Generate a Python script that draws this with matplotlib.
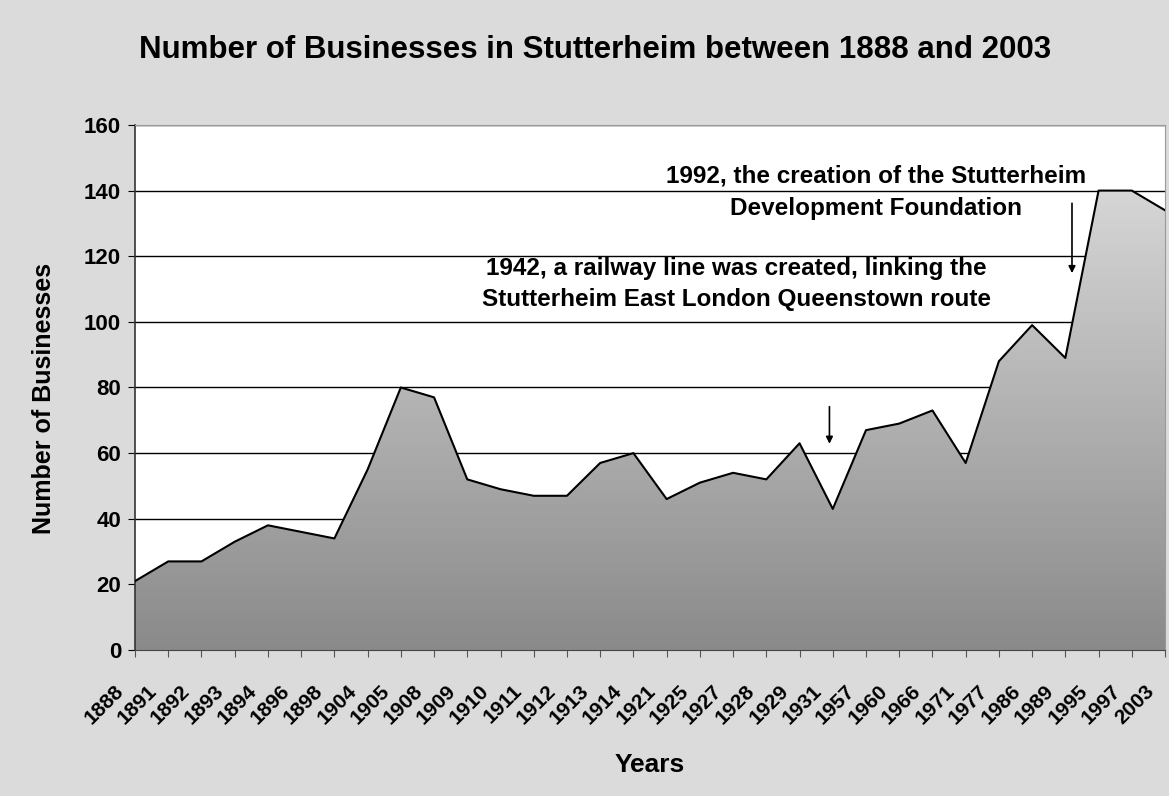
import numpy as np
import matplotlib.pyplot as plt
import matplotlib.transforms as mtransforms
from matplotlib.colors import LinearSegmentedColormap

years = ["1888", "1891", "1892", "1893", "1894", "1896", "1898", "1904", "1905", "1908",
         "1909", "1910", "1911", "1912", "1913", "1914", "1921", "1925", "1927", "1928",
         "1929", "1931", "1957", "1960", "1966", "1971", "1977", "1986", "1989", "1995",
         "1997", "2003"]
businesses = [21, 27, 27, 33, 38, 36, 34, 55, 80, 77,
              52, 49, 47, 47, 57, 60, 46, 51, 54, 52,
              63, 43, 67, 69, 73, 57, 88, 99, 89, 140,
              140, 134]
yticks = [0, 20, 40, 60, 80, 100, 120, 140, 160]

plt.rcParams['font.family'] = ['Liberation Sans', 'DejaVu Sans']
plt.rcParams['font.weight'] = 'bold'

fig = plt.figure(figsize=(11.69, 7.96), dpi=100, facecolor='#dbdbdb')
ax = fig.add_axes([0.1155, 0.1834, 0.8811, 0.6596])
ax.set_facecolor('white')

x = np.arange(len(years))

# gradient filled area, clipped to the data polygon
poly = ax.fill_between(x, businesses, 0, facecolor='none', edgecolor='none', zorder=2)
cmap = LinearSegmentedColormap.from_list('g', ['#8a8a8a', '#d6d6d6'])
grad = np.linspace(0, 1, 256).reshape(-1, 1)
im = ax.imshow(grad, cmap=cmap, aspect='auto', origin='lower',
               extent=[0, len(years) - 1, 0, max(businesses)], zorder=2)
im.set_clip_path(poly.get_paths()[0], ax.transData)
ax.plot(x, businesses, color='black', lw=1.5, zorder=3)

ax.set_xlim(0, len(years) - 1)
ax.set_ylim(0, 160)
ax.set_yticks(yticks)
ax.yaxis.grid(True, color='black', lw=1)
ax.set_axisbelow(True)

ax.tick_params(axis='y', labelsize=16, length=5, pad=5)
ax.tick_params(axis='x', length=5, pad=4, color='#555555')
ax.set_xticks(x)
ax.set_xticklabels(years, rotation=45, ha='right', va='top', rotation_mode='anchor', fontsize=15)
# move the slanted year labels down/left like the original
shift = mtransforms.ScaledTranslation(-0.21, -0.19, fig.dpi_scale_trans)
for lab in ax.get_xticklabels():
    lab.set_transform(lab.get_transform() + shift)

for s in ['top', 'right']:
    ax.spines[s].set_color('#999999')
ax.spines['left'].set_color('#333333')
ax.spines['left'].set_linewidth(1.2)
ax.spines['bottom'].set_color('#444444')

fig.text(0.509, 0.937, "Number of Businesses in Stutterheim between 1888 and 2003",
         ha='center', va='center', fontsize=22.5)
fig.text(0.038, 0.5, "Number of Businesses", rotation=90, ha='center', va='center', fontsize=18)
fig.text(0.556, 0.039, "Years", ha='center', va='center', fontsize=19)

ax.text(22.3, 139.5, "1992, the creation of the Stutterheim\nDevelopment Foundation",
        ha='center', va='center', fontsize=17.5, linespacing=1.5, zorder=4)
ax.annotate("", xy=(28.2, 114), xytext=(28.2, 137),
            arrowprops=dict(arrowstyle='-|>', color='black', lw=1.2), zorder=4)
ax.text(18.1, 111.5, "1942, a railway line was created, linking the\nStutterheim East London Queenstown route",
        ha='center', va='center', fontsize=17.5, linespacing=1.45, zorder=4)
ax.annotate("", xy=(20.9, 62), xytext=(20.9, 75),
            arrowprops=dict(arrowstyle='-|>', color='black', lw=1.2), zorder=4)

fig.savefig("out.png", dpi=100, facecolor=fig.get_facecolor())
